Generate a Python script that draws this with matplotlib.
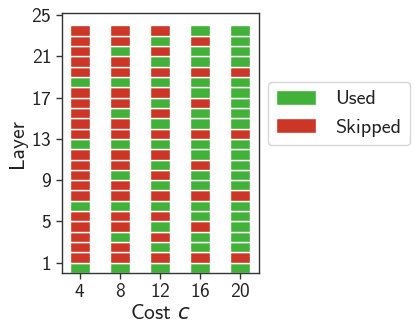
import numpy as np
import matplotlib.pyplot as plt
from matplotlib.patches import Patch

plt.rcParams['font.family'] = ['cmss10', 'DejaVu Sans']
plt.rcParams['mathtext.fontset'] = 'custom'
plt.rcParams['mathtext.it'] = 'DejaVu Sans:italic'
plt.rcParams['axes.formatter.use_mathtext'] = True

# cost values (columns)
costs = [4, 8, 12, 16, 20]

# layers 1..24, 1 = used, 0 = skipped (read bottom to top)
used_c4 = [1, 0, 0, 0, 0, 0, 1, 0, 0, 0, 0, 0, 1, 0, 0, 0, 0, 0, 1, 0, 0, 0, 0, 0]
used_c8 = [1, 0, 0, 1, 0, 0, 1, 0, 0, 1, 0, 0, 1, 0, 0, 1, 0, 0, 1, 0, 0, 1, 0, 0]
used_c12 = [1, 0, 1, 0, 1, 0, 1, 0, 1, 0, 1, 0, 1, 0, 1, 0, 1, 0, 1, 0, 1, 0, 1, 0]
used_c16 = [1, 0, 1, 1, 0, 1, 1, 0, 1, 1, 0, 1, 1, 0, 1, 1, 0, 1, 1, 0, 1, 1, 0, 1]
used_c20 = [1, 0, 1, 1, 1, 1, 1, 0, 1, 1, 1, 1, 1, 0, 1, 1, 1, 1, 1, 0, 1, 1, 1, 1]

layer_ticks = [1, 5, 9, 13, 17, 21, 25]

green = '#41b13a'
red = '#cb3626'
dark = '#333333'


def plot():

    fig = plt.figure(figsize=(4.15, 3.35), dpi=100)

    ax = fig.add_axes([62 / 415, 62 / 335, 197 / 415, 260 / 335])

    columns = [used_c4, used_c8, used_c12, used_c16, used_c20]

    for cost, col in zip(costs, columns):

        layers = np.arange(1, len(col) + 1)

        colors = [green if u else red for u in col]

        ax.bar([cost] * len(col), 1, width=2, bottom=layers - 1,
               color=colors, edgecolor='white', linewidth=1.0)

    ax.set_xlim(2.2, 21.9)
    ax.set_ylim(0, 25.2)

    ax.set_xticks(costs)
    ax.set_yticks(layer_ticks)

    for s in ax.spines.values():
        s.set_color(dark)
        s.set_linewidth(1.0)

    ax.tick_params(axis='both', colors=dark, labelsize=14, length=4, width=1, labelcolor='#222222')

    ax.set_xlabel('Cost $c$', fontsize=15.5, color='#222222', labelpad=2)
    ax.set_ylabel('Layer', fontsize=15.5, color='#222222', labelpad=3)

    handles = [Patch(facecolor=green, edgecolor='white', label='Used'),
               Patch(facecolor=red, edgecolor='white', label='Skipped')]

    leg = ax.legend(handles=handles, loc='upper left', bbox_to_anchor=(1.046, 0.735),
                    borderaxespad=0, fontsize=14.5, handlelength=2.0, handleheight=0.75,
                    handletextpad=0.95, frameon=True, fancybox=True)
    leg.get_frame().set_edgecolor('#cccccc')
    for t in leg.get_texts():
        t.set_color('#222222')

    fig.savefig('out.png', dpi=100)


plot()
